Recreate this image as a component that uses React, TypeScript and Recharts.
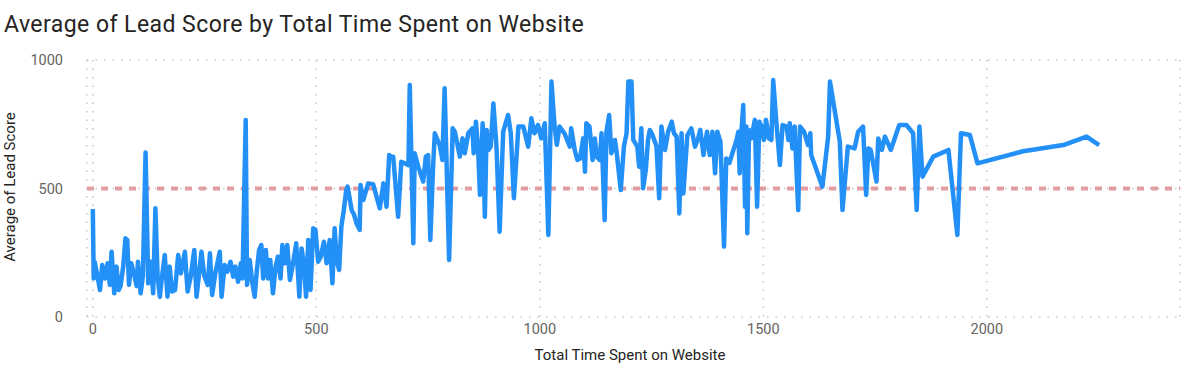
import { LineChart, Line, XAxis, YAxis, CartesianGrid, ReferenceLine } from "recharts";

// Total time spent on website (x) and average lead score (y)
const timeSpent = [
  0, 2, 4, 10, 16, 21, 27, 33, 38, 42, 48, 53, 58, 62, 68, 73, 77, 81, 86, 92,
  98, 101, 107, 112, 118, 124, 130, 135, 140, 145, 150, 155, 161, 167, 172, 177, 184, 191, 197, 206,
  212, 219, 227, 232, 237, 243, 249, 257, 262, 267, 274, 284, 288, 295, 301, 308, 314, 319, 325, 331,
  335, 338, 342, 345, 351, 357, 362, 367, 372, 377, 381, 387, 392, 397, 403, 409, 414, 420, 424, 430,
  435, 441, 448, 455, 462, 467, 472, 477, 482, 487, 493, 498, 504, 510, 517, 523, 530, 536, 541, 546,
  551, 556, 561, 567, 570, 579, 584, 590, 597, 599, 605, 616, 627, 642, 650, 657, 663, 668, 672, 683,
  690, 706, 709, 717, 720, 728, 739, 745, 750, 755, 761, 765, 776, 782, 787, 797, 805, 810, 821, 827,
  832, 840, 849, 852, 857, 862, 866, 872, 877, 881, 885, 890, 896, 903, 910, 918, 929, 935, 942, 952,
  963, 974, 981, 988, 996, 1003, 1011, 1019, 1026, 1033, 1038, 1044, 1055, 1067, 1070, 1078, 1084, 1090, 1097, 1101,
  1104, 1111, 1118, 1123, 1127, 1134, 1138, 1145, 1149, 1155, 1160, 1168, 1172, 1181, 1188, 1194, 1198, 1205, 1209, 1218,
  1222, 1227, 1231, 1237, 1242, 1246, 1252, 1261, 1267, 1272, 1280, 1287, 1295, 1300, 1306, 1312, 1317, 1321, 1330, 1339,
  1347, 1354, 1359, 1366, 1374, 1380, 1386, 1392, 1397, 1404, 1412, 1417, 1424, 1440, 1444, 1447, 1451, 1455, 1459, 1462,
  1464, 1468, 1473, 1481, 1486, 1491, 1496, 1501, 1506, 1512, 1518, 1522, 1529, 1537, 1543, 1552, 1556, 1559, 1565, 1570,
  1578, 1582, 1591, 1600, 1605, 1607, 1632, 1645, 1649, 1671, 1677, 1689, 1704, 1712, 1723, 1730, 1735, 1740, 1753, 1757,
  1765, 1772, 1785, 1804, 1820, 1835, 1843, 1849, 1856, 1880, 1914, 1934, 1942, 1962, 1979, 2081, 2171, 2223, 2251,
];

const leadScore = [
  420, 150, 215, 163, 105, 202, 150, 209, 125, 254, 92, 196, 105, 120, 196, 306, 300, 125, 209, 170,
  120, 215, 92, 160, 640, 131, 215, 92, 423, 155, 79, 160, 241, 79, 196, 99, 105, 241, 170, 254,
  99, 157, 261, 79, 157, 254, 163, 125, 248, 86, 170, 254, 79, 202, 176, 215, 157, 196, 137, 209,
  150, 423, 767, 125, 222, 131, 79, 183, 261, 280, 150, 261, 150, 222, 92, 196, 235, 150, 280, 209,
  280, 144, 209, 287, 79, 267, 209, 79, 300, 105, 345, 340, 215, 235, 293, 209, 300, 131, 345, 215,
  183, 352, 410, 494, 507, 416, 400, 364, 339, 514, 455, 520, 517, 423, 520, 429, 630, 624, 624, 390,
  604, 591, 903, 287, 637, 585, 527, 624, 630, 300, 578, 715, 669, 611, 890, 222, 734, 720, 624, 695,
  637, 715, 734, 637, 760, 650, 475, 754, 390, 728, 650, 663, 831, 663, 332, 721, 786, 715, 462, 741,
  741, 663, 773, 715, 747, 695, 754, 319, 916, 741, 670, 741, 715, 663, 734, 650, 611, 617, 695, 565,
  754, 741, 611, 695, 624, 611, 715, 377, 721, 786, 637, 689, 637, 494, 663, 715, 916, 916, 689, 663,
  585, 734, 501, 572, 689, 728, 708, 663, 462, 741, 650, 721, 760, 715, 702, 403, 715, 481, 708, 734,
  663, 695, 728, 630, 721, 630, 721, 559, 721, 682, 274, 617, 600, 689, 721, 559, 721, 825, 429, 741,
  326, 728, 695, 767, 429, 760, 741, 689, 767, 695, 689, 922, 760, 591, 747, 741, 689, 754, 656, 741,
  416, 741, 721, 669, 715, 630, 507, 702, 916, 682, 416, 663, 656, 721, 741, 475, 656, 650, 527, 695,
  650, 702, 650, 747, 747, 715, 416, 741, 546, 624, 650, 319, 715, 708, 598, 645, 669, 702, 669,
];

const xTicks = [0, 500, 1000, 1500, 2000];
const yTicks = [0, 500, 1000];
const averageLine = 500;

const rows = timeSpent.map((t, i) => ({ time: t, score: leadScore[i] }));

const font = "Roboto, 'Noto Sans', sans-serif";

export default function App() {
  return (
    <div style={{ position: "fixed", top: 0, left: 0, width: 1200, height: 380, background: "#fff", fontFamily: font }}>
      {/* Title */}
      <div style={{ position: "absolute", left: 4, top: 11, fontSize: 23, letterSpacing: 0.45, color: "#252423", whiteSpace: "nowrap" }}>
        Average of Lead Score by Total Time Spent on Website
      </div>

      {/* Y axis title */}
      <div
        style={{
          position: "absolute", left: 10, top: 187, fontSize: 15, color: "#252423", whiteSpace: "nowrap",
          transform: "translate(-50%, -50%) rotate(-90deg)",
        }}
      >
        Average of Lead Score
      </div>

      {/* X axis title */}
      <div
        style={{
          position: "absolute", left: 630, top: 355, fontSize: 15, color: "#252423", whiteSpace: "nowrap",
          transform: "translate(-50%, -50%)",
        }}
      >
        Total Time Spent on Website
      </div>

      <LineChart width={1200} height={380} data={rows} margin={{ top: 60, right: 20, bottom: 0, left: 0 }}>
        <CartesianGrid stroke="#C8C6C4" strokeDasharray="1.5 7" strokeWidth={1.5} />
        <XAxis
          dataKey="time"
          type="number"
          domain={[-13, 2432]}
          ticks={xTicks}
          axisLine={false}
          tickLine={false}
          tickSize={0}
          tickMargin={7}
          tick={{ fill: "#666463", fontSize: 14.5, fontFamily: font }}
          height={63}
        />
        <YAxis
          type="number"
          domain={[0, 1000]}
          ticks={yTicks}
          axisLine={false}
          tickLine={false}
          tickSize={0}
          tickMargin={24}
          tick={{ fill: "#666463", fontSize: 14.5, fontFamily: font }}
          width={87}
        />
        <ReferenceLine y={averageLine} stroke="#E39CA2" strokeWidth={4} strokeDasharray="7 7" />
        <Line
          dataKey="score"
          stroke="#2390F7"
          strokeWidth={4.5}
          dot={false}
          strokeLinejoin="round"
          isAnimationActive={false}
        />
      </LineChart>
    </div>
  );
}
